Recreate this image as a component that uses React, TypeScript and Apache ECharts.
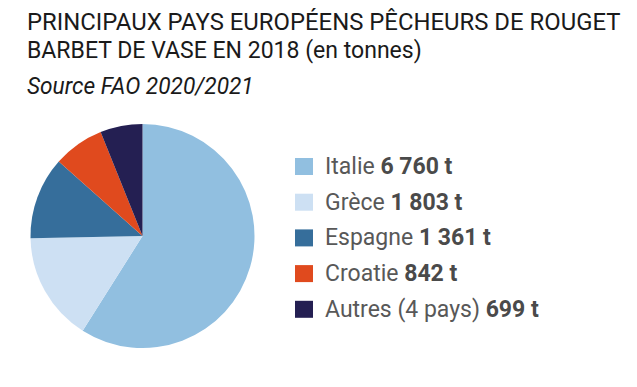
import React, { useEffect, useRef } from "react";
import * as echarts from "echarts";

const countries = ["Italie", "Grèce", "Espagne", "Croatie", "Autres (4 pays)"];
const tonnes = [6760, 1803, 1361, 842, 699];
const valueLabels = ["6 760 t", "1 803 t", "1 361 t", "842 t", "699 t"];
const colors = ["#91bfe0", "#cde0f3", "#366e9b", "#e04a1e", "#241f52"];
const titleLines = [
  "PRINCIPAUX PAYS EUROPÉENS PÊCHEURS DE ROUGET",
  "BARBET DE VASE EN 2018 (en tonnes)",
];
const sourceText = "Source FAO 2020/2021";

export default function App() {
  const ref = useRef<HTMLDivElement>(null);
  useEffect(() => {
    if (!ref.current) return;
    const chart = echarts.init(ref.current, undefined, { renderer: "svg" });
    const font = "Roboto";
    const mk = (text: string, y: number, italic: boolean, sx: number) => ({
      type: "text",
      x: 27,
      y,
      scaleX: sx,
      style: {
        x: 0,
        y: 0,
        text,
        font: `${italic ? "italic " : ""}24px ${font}`,
        fill: "#1a1a1a",
        textAlign: "left",
        textVerticalAlign: "middle",
      },
    });
    chart.setOption({
      animation: false,
      backgroundColor: "#ffffff",
      graphic: [
        mk(titleLines[0], 22, false, 0.995),
        mk(titleLines[1], 50, false, 0.96),
        mk(sourceText, 86, true, 0.945),
      ],
      legend: {
        orient: "vertical",
        left: 290,
        top: 150,
        itemWidth: 18,
        itemHeight: 17,
        itemGap: 12.7,
        icon: "rect",
        selectedMode: false,
        formatter: (name: string) => {
          const i = countries.indexOf(name);
          return `{n|${name}}{v| ${valueLabels[i]}}`;
        },
        textStyle: {
          padding: [0, 0, 0, 7],
          rich: {
            n: { fontFamily: font, fontSize: 23, color: "#585858", lineHeight: 22 },
            v: { fontFamily: font, fontSize: 23, fontWeight: "bold", color: "#4a4a4a", lineHeight: 22 },
          },
        },
      },
      series: [
        {
          type: "pie",
          center: [142.5, 236],
          radius: 112,
          startAngle: 90,
          clockwise: true,
          label: { show: false },
          labelLine: { show: false },
          emphasis: { disabled: true },
          itemStyle: { borderWidth: 0 },
          data: countries.map((c, i) => ({
            name: c,
            value: tonnes[i],
            itemStyle: { color: colors[i] },
          })),
        },
      ],
    });
    return () => chart.dispose();
  }, []);
  return (
    <div
      ref={ref}
      style={{ position: "fixed", left: 0, top: 0, width: 637, height: 387 }}
    />
  );
}
